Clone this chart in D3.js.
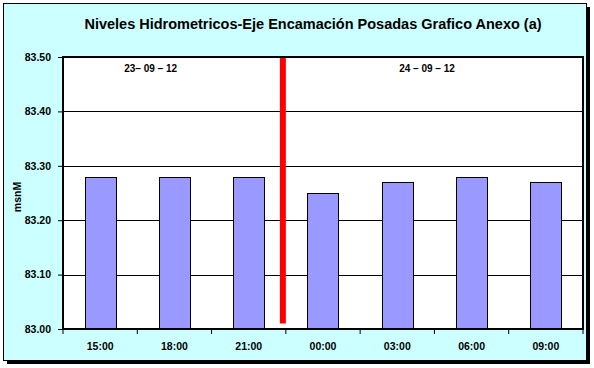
<!DOCTYPE html>
<html>
<head>
<meta charset="utf-8">
<script src="https://cdn.jsdelivr.net/npm/d3@7"></script>
<style>
  body { margin: 0; background: #fff; }
  text { font-family: Arial, "Liberation Sans", sans-serif; }
</style>
</head>
<body>
<div id="wrapper"></div>
<script>
const hours = ["15:00", "18:00", "21:00", "00:00", "03:00", "06:00", "09:00"];
const levels = [83.28, 83.28, 83.28, 83.25, 83.27, 83.28, 83.27];
const yTicks = [83.0, 83.1, 83.2, 83.3, 83.4, 83.5];
const dayLabels = ["23– 09 – 12", "24 – 09 – 12"];
const dayBreak = { after: "21:00", from: 83.01, to: 83.5 };
const title = "Niveles Hidrometricos-Eje Encamación Posadas Grafico Anexo (a)";

const width = 594;
const height = 368;
const dimensions = {
  width,
  height,
  margin: { top: 57, right: 11, bottom: 39, left: 63 },
};
dimensions.boundedWidth =
  dimensions.width - dimensions.margin.left - dimensions.margin.right;
dimensions.boundedHeight =
  dimensions.height - dimensions.margin.top - dimensions.margin.bottom;

const svg = d3
  .select("#wrapper")
  .append("svg")
  .attr("width", width)
  .attr("height", height);

// outer frame with shadow
svg.append("rect")
  .attr("x", 7).attr("y", 7)
  .attr("width", 583).attr("height", 357)
  .attr("fill", "#000");
svg.append("rect")
  .attr("x", 3.5).attr("y", 3.5)
  .attr("width", 583).attr("height", 357)
  .attr("fill", "#ccffff")
  .attr("stroke", "#000")
  .attr("stroke-width", 1);

svg.append("text")
  .attr("x", 313)
  .attr("y", 29)
  .attr("text-anchor", "middle")
  .style("font-size", "14.5px")
  .style("font-weight", "bold")
  .text(title);

const bounds = svg
  .append("g")
  .attr("transform", `translate(${dimensions.margin.left},${dimensions.margin.top})`);

const xScale = d3
  .scaleBand()
  .domain(hours)
  .range([0, dimensions.boundedWidth])
  .paddingInner(0.58)
  .paddingOuter(0.29);

const xTickScale = d3
  .scaleBand()
  .domain(hours)
  .range([0, dimensions.boundedWidth]);

const yScale = d3
  .scaleLinear()
  .domain([83.0, 83.5])
  .range([dimensions.boundedHeight, 0]);

bounds.append("rect")
  .attr("width", dimensions.boundedWidth)
  .attr("height", dimensions.boundedHeight)
  .attr("fill", "#fff");

bounds.append("g")
  .selectAll("line")
  .data(yTicks)
  .join("line")
  .attr("x1", 0)
  .attr("x2", dimensions.boundedWidth)
  .attr("y1", (d) => Math.round(yScale(d)) + 0.5)
  .attr("y2", (d) => Math.round(yScale(d)) + 0.5)
  .attr("stroke", "#000")
  .attr("stroke-width", 1);

bounds.append("g")
  .selectAll("rect")
  .data(levels)
  .join("rect")
  .attr("x", (d, i) => Math.round(xScale(hours[i])) + 0.5)
  .attr("y", (d) => Math.round(yScale(d)) + 0.5)
  .attr("width", Math.round(xScale.bandwidth()))
  .attr("height", (d) => Math.round(yScale(83.0)) - Math.round(yScale(d)))
  .attr("fill", "#9999ff")
  .attr("stroke", "#000")
  .attr("stroke-width", 1);

// day separator
const breakX = xTickScale(dayBreak.after) + xTickScale.bandwidth() - 3;
bounds.append("line")
  .attr("x1", breakX)
  .attr("x2", breakX)
  .attr("y1", yScale(dayBreak.to))
  .attr("y2", yScale(dayBreak.from))
  .attr("stroke", "#ff0000")
  .attr("stroke-width", 6);

// day labels sit in the upper part of each day, in category steps
const dayLabelPos = [1.18, 4.9];
bounds.append("g")
  .selectAll("text")
  .data(dayLabels)
  .join("text")
  .attr("x", (d, i) => dayLabelPos[i] * xTickScale.step())
  .attr("y", 15)
  .attr("text-anchor", "middle")
  .style("font-size", "10px")
  .style("font-weight", "bold")
  .text((d) => d);

// plot border
bounds.append("rect")
  .attr("x", 0).attr("y", 0)
  .attr("width", dimensions.boundedWidth)
  .attr("height", dimensions.boundedHeight)
  .attr("fill", "none")
  .attr("stroke", "#000")
  .attr("stroke-width", 2);

const yAxis = d3.axisLeft(yScale)
  .tickValues(yTicks)
  .tickSize(5)
  .tickPadding(7)
  .tickFormat(d3.format(".2f"));

const yAxisG = bounds.append("g").call(yAxis);
yAxisG.select(".domain").remove();
yAxisG.selectAll("line").attr("stroke", "#000");
yAxisG.selectAll("text")
  .attr("fill", "#000")
  .style("font-size", "10.5px")
  .style("font-weight", "bold")
  .style("font-family", "Arial, 'Liberation Sans', sans-serif");

const xAxis = d3.axisBottom(xTickScale)
  .tickSize(0)
  .tickPadding(14);

const xAxisG = bounds.append("g")
  .attr("transform", `translate(0,${dimensions.boundedHeight})`)
  .call(xAxis);
xAxisG.select(".domain").remove();
xAxisG.selectAll("text")
  .attr("fill", "#000")
  .style("font-size", "10.5px")
  .style("font-weight", "bold")
  .style("font-family", "Arial, 'Liberation Sans', sans-serif");

// category boundary ticks
bounds.append("g")
  .selectAll("line")
  .data(hours.concat(["end"]))
  .join("line")
  .attr("x1", (d, i) => i * xTickScale.step())
  .attr("x2", (d, i) => i * xTickScale.step())
  .attr("y1", dimensions.boundedHeight)
  .attr("y2", dimensions.boundedHeight + 5)
  .attr("stroke", "#000");

svg.append("text")
  .attr("transform", "translate(21,197) rotate(-90)")
  .attr("text-anchor", "middle")
  .style("font-size", "10.5px")
  .style("font-weight", "bold")
  .text("msnM");
</script>
</body>
</html>
